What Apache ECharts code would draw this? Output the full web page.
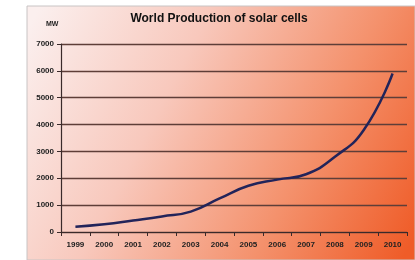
<!DOCTYPE html>
<html>
<head>
<meta charset="utf-8">
<script src="https://cdn.jsdelivr.net/npm/echarts@6/dist/echarts.min.js"></script>
<style>
  html, body { margin: 0; padding: 0; background: #fff; }
  #chart { width: 415px; height: 260px; }
</style>
</head>
<body>
<div id="chart"></div>
<script>
var years = ['1999', '2000', '2001', '2002', '2003', '2004', '2005', '2006', '2007', '2008', '2009', '2010'];
var production = [200, 290, 430, 580, 760, 1250, 1720, 1950, 2150, 2800, 3800, 5900];

var chart = echarts.init(document.getElementById('chart'));
chart.setOption({
    animation: false,
    graphic: [{
        type: 'rect',
        z: -10,
        shape: { x: 27, y: 6, width: 388, height: 254 },
        style: {
            fill: new echarts.graphic.LinearGradient(0, 0.1, 1, 0.9, [
                { offset: 0, color: '#fbefee' },
                { offset: 0.35, color: '#f8c8bc' },
                { offset: 0.7, color: '#f4916c' },
                { offset: 1, color: '#ef5c28' }
            ]),
            stroke: '#c8c4c4',
            lineWidth: 1
        }
    }, {
        type: 'text',
        left: 46,
        top: 21,
        style: { text: 'MW', font: 'bold 7px "Liberation Sans", Arial', fill: '#222' }
    }],
    title: {
        text: 'World Production of solar cells',
        left: 214,
        top: 8,
        textAlign: 'center',
        textStyle: {
            fontSize: 12,
            fontWeight: 'bold',
            color: '#111',
            fontFamily: '"Liberation Sans", Arial'
        }
    },
    grid: { left: 61, right: 8, top: 44, bottom: 28 },
    xAxis: {
        type: 'category',
        data: years,
        boundaryGap: true,
        axisLine: { lineStyle: { color: '#3a2a2a', width: 1.2 } },
        axisTick: { show: true, length: 4, lineStyle: { color: '#3a2a2a' } },
        axisLabel: {
            interval: 0,
            margin: 9,
            fontSize: 8,
            fontWeight: 'bold',
            color: '#222',
            fontFamily: '"Liberation Sans", Arial'
        }
    },
    yAxis: {
        type: 'value',
        min: 0,
        max: 7000,
        interval: 1000,
        axisLine: { show: true, lineStyle: { color: '#3a2a2a', width: 1.2 } },
        axisTick: { show: true, length: 4, lineStyle: { color: '#3a2a2a' } },
        splitLine: { lineStyle: { color: '#5e3e38', width: 1.4 } },
        axisLabel: {
            margin: 7,
            fontSize: 8,
            fontWeight: 'bold',
            color: '#222',
            fontFamily: '"Liberation Sans", Arial',
            formatter: function (v) { return String(v); }
        }
    },
    series: [{
        type: 'line',
        data: production,
        smooth: true,
        symbol: 'none',
        lineStyle: { color: '#22245a', width: 2.5 }
    }]
});
</script>
</body>
</html>
